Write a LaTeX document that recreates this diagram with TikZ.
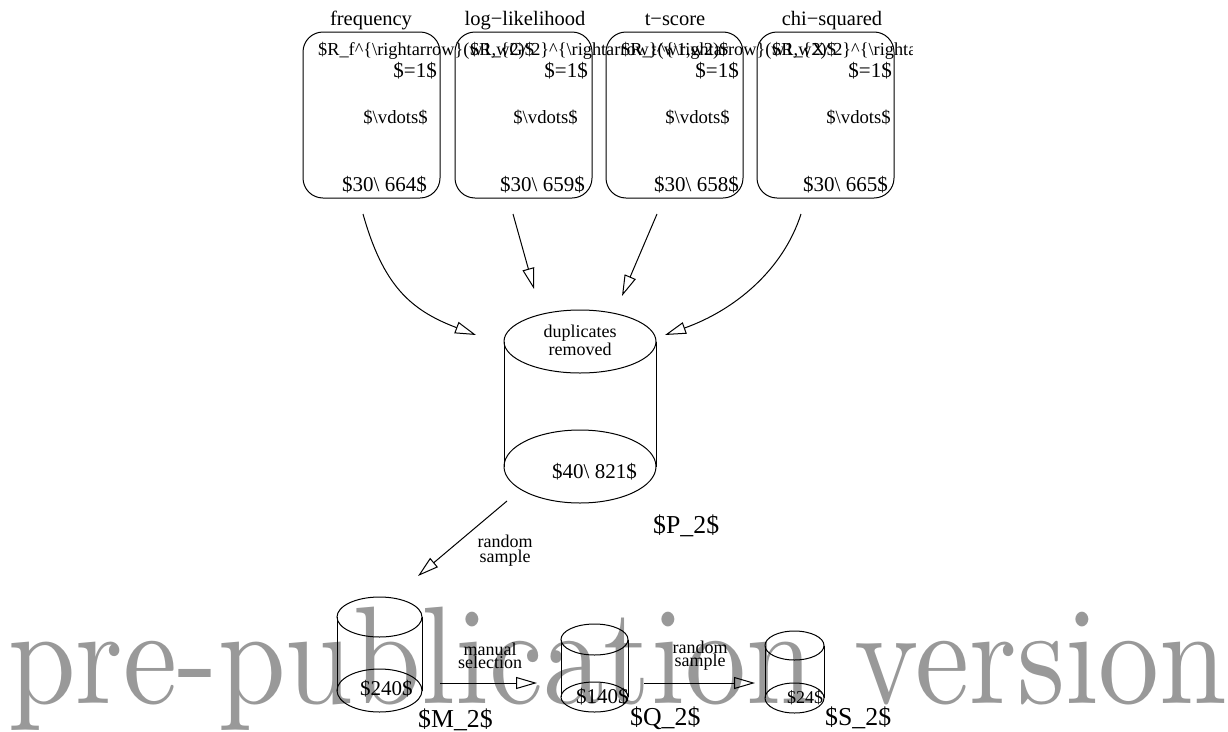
\documentclass[tikz,border=0pt]{standalone}
\usepackage{fontspec}
\setmainfont{Liberation Serif}
\newfontfamily\wmfont{lmroman10-regular.otf}
\usetikzlibrary{arrows.meta}
\definecolor{wmgray}{gray}{0.6}
\newcommand{\bsl}{\textbackslash}
\newcommand{\crt}{\char`\^}
\newcommand{\mns}{\char"2212}
\begin{document}
\begin{tikzpicture}[x=1pt,y=-1pt,
  box/.style={draw, line width=1pt, rounded corners=20pt, minimum width=137pt, minimum height=166pt, inner sep=0},
  ttl/.style={font=\fontsize{20.5}{22}\selectfont, anchor=base, inner sep=0},
  lbl/.style={font=\fontsize{18.3}{20}\selectfont, anchor=base west, inner sep=0},
  val/.style={font=\fontsize{21}{23}\selectfont, anchor=base east, inner sep=0},
  dts/.style={font=\fontsize{18.7}{20}\selectfont, anchor=base east, inner sep=0},
  small/.style={font=\fontsize{18}{#1}\selectfont, align=center, anchor=north, inner sep=0},
  big/.style={font=\fontsize{25.8}{27}\selectfont, anchor=base west, inner sep=0},
  num/.style={font=\fontsize{21}{23}\selectfont, anchor=base west, inner sep=0},
  conn/.style={line width=1pt, -{Triangle[open, length=21pt, width=12pt]}},
  cyl/.style={line width=1pt},
  wm/.style={font=\wmfont\fontsize{139}{139}\selectfont, text=wmgray, anchor=base west, inner sep=0, xscale=0.876}
]
\useasboundingbox (0,0) rectangle (1228,731);
% watermark
\node[wm] (wmark) at (8,703) {pre-publication version};

% boxes
\node[box] (bf) at (371.5,115) {};
\node[box] (bg) at (523.5,115) {};
\node[box] (bt) at (674.5,115) {};
\node[box] (bx) at (825.5,115) {};

% titles
\node[ttl] (tf) at (371,25) {frequency};
\node[ttl] (tg) at (525,25) {log\mns likelihood};
\node[ttl] (tt) at (675,25) {t\mns score};
\node[ttl] (tx) at (832,25) {chi\mns squared};

% labels (clipped like the original figure)
\begin{scope}
\clip (0,0) rectangle (912,731);
\node[lbl] (lf) at (318,55) {\$R\_f\crt\{\bsl rightarrow\}(w1,w2)\$};
\node[lbl] (lg) at (470,55) {\$R\_\{G\crt 2\}\crt\{\bsl rightarrow\}(w1,w2)\$};
\node[lbl] (lt) at (621,55) {\$R\_t\crt\{\bsl rightarrow\}(w1,w2)\$};
\node[lbl] (lx) at (772,55) {\$R\_\{X\crt 2\}\crt\{\bsl rightarrow\}(w1,w2)\$};
\end{scope}

\node[val] (ef) at (437,77) {\$=1\$};
\node[val] (eg) at (588,77) {\$=1\$};
\node[val] (et) at (739,77) {\$=1\$};
\node[val] (ex) at (892,77) {\$=1\$};

\node[dts] (df) at (428,123) {\$\bsl vdots\$};
\node[dts] (dg) at (578,123) {\$\bsl vdots\$};
\node[dts] (dt) at (730,123) {\$\bsl vdots\$};
\node[dts] (dx) at (891,123) {\$\bsl vdots\$};

\node[val] (nf) at (427,191) {\$30\bsl{} 664\$};
\node[val] (ng) at (585,191) {\$30\bsl{} 659\$};
\node[val] (nt) at (739,191) {\$30\bsl{} 658\$};
\node[val] (nx) at (888,191) {\$30\bsl{} 665\$};

% big cylinder P2
\draw[cyl] (580,341.5) ellipse [x radius=76, y radius=31.5];
\draw[cyl] (580,466.5) ellipse [x radius=76, y radius=36.5];
\draw[cyl] (504,341.5) -- (504,466.5) (656,341.5) -- (656,466.5);
\node[small=18] (dup) at (580,325) {duplicates\\removed};
\node[num] (p40) at (552,478) {\$40\bsl{} 821\$};
\node[big] (pn) at (653,533) {\$P\_2\$};

% cylinder M2
\draw[cyl] (379.5,617) ellipse [x radius=42.5, y radius=20];
\draw[cyl] (379.5,690.5) ellipse [x radius=42.5, y radius=21.5];
\draw[cyl] (337,617) -- (337,690.5) (422,617) -- (422,690.5);
\node[num] (m240) at (360,695) {\$240\$};
\node[big] (mn) at (418,727) {\$M\_2\$};

% cylinder Q2
\draw[cyl] (594.5,639.5) ellipse [x radius=33.5, y radius=15.5];
\draw[cyl] (594.5,697) ellipse [x radius=33.5, y radius=15];
\draw[cyl] (561,639.5) -- (561,697) (628,639.5) -- (628,697);
\node[num] (q140) at (576,703) {\$140\$};
\node[big] (qn) at (630,725) {\$Q\_2\$};

% cylinder S2
\draw[cyl] (794.5,645.5) ellipse [x radius=29.5, y radius=14.5];
\draw[cyl] (794.5,698) ellipse [x radius=29.5, y radius=15];
\draw[cyl] (765,645.5) -- (765,698) (824,645.5) -- (824,698);
\node[font=\fontsize{18}{20}\selectfont, anchor=base west, inner sep=0] (s24) at (787,703) {\$24\$};
\node[big] (sn) at (825,725) {\$S\_2\$};

% connector end points
\coordinate (a1s) at (363,214);  \coordinate (a1e) at (476,335);
\coordinate (a2s) at (513,214);  \coordinate (a2e) at (534,289);
\coordinate (a3s) at (657,214);  \coordinate (a3e) at (622,296);
\coordinate (a4s) at (801,214);  \coordinate (a4e) at (665,335);
\coordinate (pms) at (507,501);  \coordinate (pme) at (418,576);
\coordinate (mqs) at (440,683);  \coordinate (mqe) at (537,683);
\coordinate (qss) at (644,683);  \coordinate (qse) at (755,683);

\draw[conn] (a1s) .. controls (383,285) and (410,310) .. (a1e);
\draw[conn] (a2s) -- (a2e);
\draw[conn] (a3s) -- (a3e);
\draw[conn] (a4s) .. controls (783,270) and (735,310) .. (a4e);
\draw[conn] (pms) -- (pme);
\draw[conn] (mqs) -- (mqe);
\draw[conn] (qss) -- (qse);

\node[small=15] (rs1) at (505,535) {random\\sample};
\node[small=13] (ms) at (490,643) {manual\\selection};
\node[small=13] (rs2) at (700,641) {random\\sample};
\end{tikzpicture}
\end{document}
